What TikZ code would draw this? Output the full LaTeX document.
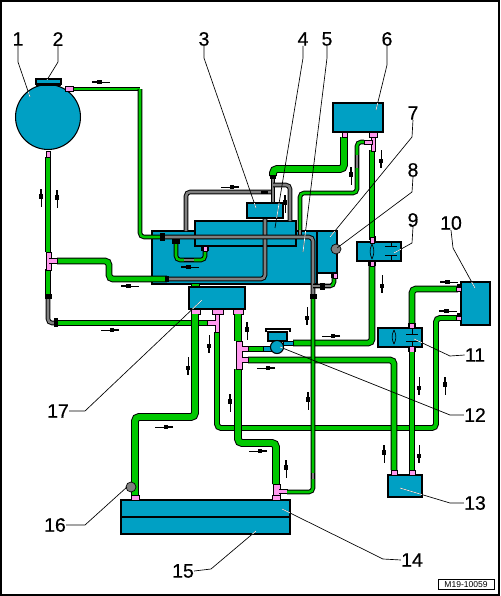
\documentclass[tikz,border=0pt]{standalone}
\usepackage{fontspec}
\setmainfont{Liberation Sans}
\newfontfamily\numfont[FakeBold=0.5]{Liberation Sans}
\definecolor{cblue}{RGB}{0,160,196}
\definecolor{cgreen}{RGB}{0,200,0}
\definecolor{cpink}{RGB}{255,153,238}
\definecolor{cgray}{RGB}{128,128,128}
\tikzset{
  px/.style={x=0.75pt,y=-0.75pt},
  pipebase/.style={draw=black,line width=0.75pt,rounded corners=3pt,line cap=butt},
  thickpipe/.style={pipebase,double=cgreen,double distance=4.4pt},
  wellpipe/.style={pipebase,double=cgreen,double distance=3.6pt},
  medpipe/.style={pipebase,double=cgreen,double distance=2.9pt},
  thinpipe/.style={pipebase,double=cgreen,double distance=1.9pt},
  graypipe/.style={pipebase,double=cgray,double distance=1.9pt},
  comp/.style={draw=black,fill=cblue,line width=0.8pt,inner sep=0pt,outer sep=0pt},
  num/.style={font=\numfont\fontsize{14.6}{16}\selectfont,inner sep=0pt,text=black},
  leader/.style={draw=black,line width=0.5pt},
  leaderw/.style={draw=white,line width=0.5pt},
  pinkpart/.style={fill=cpink,draw=black,line width=0.35pt},
  blackpart/.style={fill=black,draw=none},
}
% rectangular component given by its corners
\newcommand{\comprect}[5]{%
  \pgfmathsetmacro{\cw}{(#4-#2)*0.75}\pgfmathsetmacro{\ch}{(#5-#3)*0.75}%
  \node[comp,minimum width=\cw pt,minimum height=\ch pt] (#1) at ({(#2+#4)/2},{(#3+#5)/2}) {};}
\newcommand{\pk}[4]{\draw[pinkpart] (#1,#2) rectangle (#3,#4);}
\newcommand{\bk}[4]{\fill[blackpart] (#1,#2) rectangle (#3,#4);}
% flow arrow, at angle 0 it points left
\newcommand{\flow}[3]{%
  \begin{scope}[shift={(#1,#2)},rotate=#3]
    \draw[black,line width=0.55pt] (-9,0) -- (9,0);
    \fill[black] (-9,-1) rectangle (-3,1);
    \fill[black] (-4,-2.3) rectangle (0.5,2.3);
  \end{scope}}
\newcommand{\valve}[3]{%
  \draw[black,line width=0.5pt] (#1,#2) .. controls (#1-3,{#2+(#3-#2)*0.4}) and (#1-2,{#2+(#3-#2)*0.7}) .. (#1,#3);
  \draw[black,line width=0.5pt] (#1,#2) .. controls (#1+3,{#2+(#3-#2)*0.4}) and (#1+2,{#2+(#3-#2)*0.7}) .. (#1,#3);}
\newcommand{\capsym}[5]{%
  \draw[black,line width=0.7pt] (#1,#2) -- (#1,#3) (#1-6,#3) -- (#1+6,#3) (#1-6,#4) -- (#1+6,#4) (#1,#4) -- (#1,#5);}
\newcommand{\leaderpaths}{%
  (lone.south) -- (18,62) -- (30,97)
  (ltwo.south) -- (58,62) -- (47,80)
  (lthree.south) -- (204,58) -- (256,208)
  (lfour.south) -- (303,58) -- (275,228)
  (lfive.south) -- (327,58) -- (303,252)
  (lsix.south) -- (387,65) -- (376,110)
  (lseven.south) -- (412,137) -- (330,237)
  (leight.south) -- (412,192) -- (337,248)
  (lnine.south) -- (412,243) -- (394,253)
  (lten.south) -- (453,248) -- (475,288)
  (leleven.west) -- (450,356) -- (414,339)
  (ltwelve.west) -- (450,415) -- (280,347)
  (lthirteen.west) -- (450,503) -- (400,488)
  (lfourteen.west) -- (383,559) -- (282,509)
  (lfifteen.east) -- (211,569) -- (256,531)
  (lsixteen.east) -- (85,525) -- (127,487)
  (lseventeen.east) -- (85,411) -- (202,300)}
\begin{document}
\begin{tikzpicture}[px]
\useasboundingbox (0,0) rectangle (500,596);
\fill[white] (0,0) rectangle (500,596);
\draw[black,line width=1.5pt] (1,1) rectangle (499,595);

% tank
\node[comp,circle,minimum size=48.7pt] (tank) at (48,117) {};
\comprect{cap}{36}{79}{61}{84}
\fill[black] (36,84) rectangle (61,86);

% main blocks
\comprect{mainblock}{152}{231}{317}{284}
\comprect{rightblock}{317}{231}{337}{273}
\comprect{upperbox}{195}{221}{296}{246}

% top gray and green lines feeding the blocks
\draw[graypipe] (186,231) -- (186,192) -- (273,192);
\draw[graypipe] (273,177) -- (273,203);
\draw[graypipe] (273,185) -- (290,185) -- (290,221);
\draw[thickpipe] (344,137) -- (344,169) -- (273,169) -- (273,176);
\draw[thinpipe] (364,142) -- (357,142) -- (357,193) -- (300,193) -- (300,230);
\draw[graypipe,rounded corners=0pt] (300,230) -- (300,237);
\draw[graypipe,rounded corners=0pt] (357,155) -- (357,168);
\draw[graypipe] (167,279) -- (265,279) -- (265,218);
\draw[thinpipe] (140,89) -- (73,89);
\draw[thinpipe] (140,89) -- (140,237) -- (162,237);
\draw[graypipe] (163,237) -- (313,237) -- (313,297);
\draw[thinpipe] (176,243) -- (176,260) -- (205,260) -- (205,250);
\draw[graypipe] (184,260) -- (194,260);
\bk{160}{233}{165}{241}
\bk{172}{239}{180}{244}
\pk{203}{246}{207}{251}
\bk{201}{246}{203}{251}
\bk{207}{246}{209}{251}
\bk{270}{175}{276}{179}
\fill[black] (261,190.5) rectangle (268,193.5);

\comprect{boxthree}{247}{203}{283}{218}

% left side
\draw[wellpipe] (48,157) -- (48,252);
\draw[wellpipe] (48,269) -- (48,295);
\draw[graypipe] (48,295) -- (48,323) -- (57,323);
\draw[medpipe] (57,323) -- (207,323);
\draw[wellpipe] (57,261) -- (109,261) -- (109,279) -- (167,279);
\pk{46}{252}{51}{270}
\pk{49}{258.5}{57}{263.5}
\fill[cpink] (47,259) rectangle (52,263);
\bk{45}{294}{52}{299}
\bk{54}{318}{58}{327}
\bk{165}{276}{169}{282}
\pk{46}{151}{50}{157}
\pk{65}{86.5}{73}{91.5}

% small green piece above box 17
\fill[cgreen,draw=black,line width=0.5pt] (191,283) rectangle (199,287);
\comprect{boxseventeen}{189}{287}{245}{309}
\pk{191}{309}{200}{314}
\pk{212}{309}{223}{314}
\pk{233}{309}{243}{314}

% pipes from box 17
\draw[medpipe] (217,332) -- (217,428) -- (436,428) -- (436,318) -- (457,318);
\draw[thickpipe] (195,314) -- (195,417) -- (135,417) -- (135,495);
\draw[thickpipe] (238,314) -- (238,341);
\draw[thickpipe] (238,369) -- (238,443) -- (276,443) -- (276,484);
\pk{207}{320.5}{219}{325.5}
\pk{215}{314}{219}{332}
\fill[cpink] (214,321) rectangle (218.5,325);

% right side
\draw[wellpipe] (248,349) -- (263,349);
\draw[wellpipe] (372,150) -- (372,240);
\draw[wellpipe] (372,263) -- (372,343) -- (293,343);
\draw[wellpipe] (248,360) -- (394,360) -- (394,470);
\draw[wellpipe] (412,350) -- (412,470);
\draw[wellpipe] (412,323) -- (412,289) -- (458,289);

% box 6
\comprect{boxsix}{333}{103}{383}{132}
\pk{342}{132}{347}{137}
\pk{369}{132}{377}{137}
\pk{371}{137}{375}{151}
\pk{364}{140}{372}{144}

% box 9
\comprect{boxnine}{357}{242}{401}{261}
\valve{372}{244}{259}
\capsym{391}{242}{246}{255}{261}
\pk{370}{237}{374}{243}
\bk{374}{236}{376}{241}
\pk{370}{261}{374}{266}
\bk{368}{261}{370}{266}
\bk{374}{261}{376}{266}

% box 10
\comprect{boxten}{461}{282}{490}{325}
\pk{456}{287}{461}{291}
\pk{456}{316}{461}{320}
\bk{457}{284}{461}{287}
\bk{457}{313}{461}{316}

% box 11
\comprect{boxeleven}{378}{328}{422}{347}
\valve{394}{330}{344}
\capsym{412}{328}{334}{341}{347}
\bk{408}{323}{416}{328}
\bk{408}{347}{416}{352}
\fill[cpink] (410,324) rectangle (414,328);
\fill[cpink] (410,347) rectangle (414,352);

% box 13
\comprect{boxthirteen}{388}{475}{422}{497}
\pk{391}{470}{397}{475}
\pk{409}{470}{415}{475}

% box 15
\comprect{boxfifteen}{121}{500}{290}{534}
\draw[black,line width=0.8pt] (boxfifteen.west) -- (boxfifteen.east);
\pk{131}{495}{139}{500}
\pk{272}{495}{280}{500}
\pk{273}{484}{280}{495}
\pk{279}{489.5}{287}{493}
\fill[cpink] (274,490) rectangle (281,492.5);

% T on 238
\pk{236}{341}{242}{369}
\pk{242}{346.5}{248}{351.5}
\pk{242}{357.5}{248}{362.5}
\fill[cpink] (240,347) rectangle (243,351);
\fill[cpink] (240,358) rectangle (243,362);

% pump 12
\fill[cblue,draw=black,line width=0.5pt] (263,346.5) rectangle (271,351.5);
\fill[cblue,draw=black,line width=0.5pt] (283,341) rectangle (293,345.5);
\comprect{pumptop}{268}{332}{287}{341}
\draw[black,line width=1pt] (266,332) -- (266,329) -- (290,329) -- (290,332);
\node[comp,circle,minimum size=9.8pt] (pump) at (277,347) {};

% thin line in front of all
\draw[thinpipe] (313,297) -- (313,492) -- (287,492);
\draw[graypipe,rounded corners=0pt] (313,473) -- (313,479);
\draw[thinpipe] (313,286) -- (334,286) -- (334,276);
\draw[graypipe] (313,286) -- (320,286);
\draw[graypipe] (325,286) -- (331,286);
\bk{320}{283}{325}{290}
\bk{310}{294}{317}{299}
\pk{333}{273}{337}{278}
\bk{331}{273}{333}{278}

% gauges
\node[circle,draw=black,fill=cgray,line width=0.5pt,minimum size=7.5pt,inner sep=0pt] (geight) at (336,249) {};
\node[circle,draw=black,fill=cgray,line width=0.5pt,minimum size=7.5pt,inner sep=0pt] (gsixteen) at (131,487) {};

% flow arrows
\flow{101}{82}{0}
\flow{41}{198}{-90}
\flow{57}{199}{-90}
\flow{230}{187}{180}
\flow{190}{267}{0}
\flow{285}{204}{-90}
\flow{351}{176}{-90}
\flow{381}{159}{90}
\flow{382}{284}{90}
\flow{307}{316}{90}
\flow{331}{336}{180}
\flow{266}{368}{180}
\flow{247}{331}{-90}
\flow{209}{344}{90}
\flow{188}{366}{90}
\flow{308}{401}{-90}
\flow{230}{403}{-90}
\flow{164}{427}{180}
\flow{258}{451}{180}
\flow{286}{469}{-90}
\flow{130}{286}{0}
\flow{110}{330}{180}
\flow{449}{282}{0}
\flow{448}{311}{0}
\flow{419}{386}{90}
\flow{445}{386}{-90}
\flow{384}{454}{-90}
\flow{419}{454}{90}

% labels
\node[num] (lone) at (18,39) {1};
\node[num] (ltwo) at (58,39) {2};
\node[num] (lthree) at (204,39) {3};
\node[num] (lfour) at (303,39) {4};
\node[num] (lfive) at (327,39) {5};
\node[num] (lsix) at (387,39) {6};
\node[num] (lseven) at (413,113) {7};
\node[num] (leight) at (413,170) {8};
\node[num] (lnine) at (413,220) {9};
\node[num] (lten) at (451,223) {10};
\node[num] (leleven) at (475,355) {11};
\node[num] (ltwelve) at (475,415) {12};
\node[num] (lthirteen) at (475,503) {13};
\node[num] (lfourteen) at (412,560) {14};
\node[num] (lfifteen) at (183,571) {15};
\node[num] (lsixteen) at (55,525) {16};
\node[num] (lseventeen) at (58,411) {17};

% leader lines, white where they cross a blue part
\draw[leader] \leaderpaths;
\begin{scope}
  \clip (48,117) circle (32) (152,231) rectangle (337,284) (247,203) rectangle (283,218)
        (333,103) rectangle (383,132) (357,242) rectangle (401,261)
        (461,282) rectangle (490,325) (378,328) rectangle (422,347)
        (388,475) rectangle (422,497) (121,500) rectangle (290,534)
        (189,287) rectangle (245,309) (277,347) circle (6) (36,79) rectangle (61,84);
  \draw[leaderw] \leaderpaths;
\end{scope}

% drawing number
\node[draw=black,line width=0.7pt,fill=white,inner sep=0pt,minimum width=42pt,minimum height=7.8pt,font=\fontsize{6.4}{7}\selectfont] (stamp) at (466,584.5) {M19-10059};
\end{tikzpicture}
\end{document}
